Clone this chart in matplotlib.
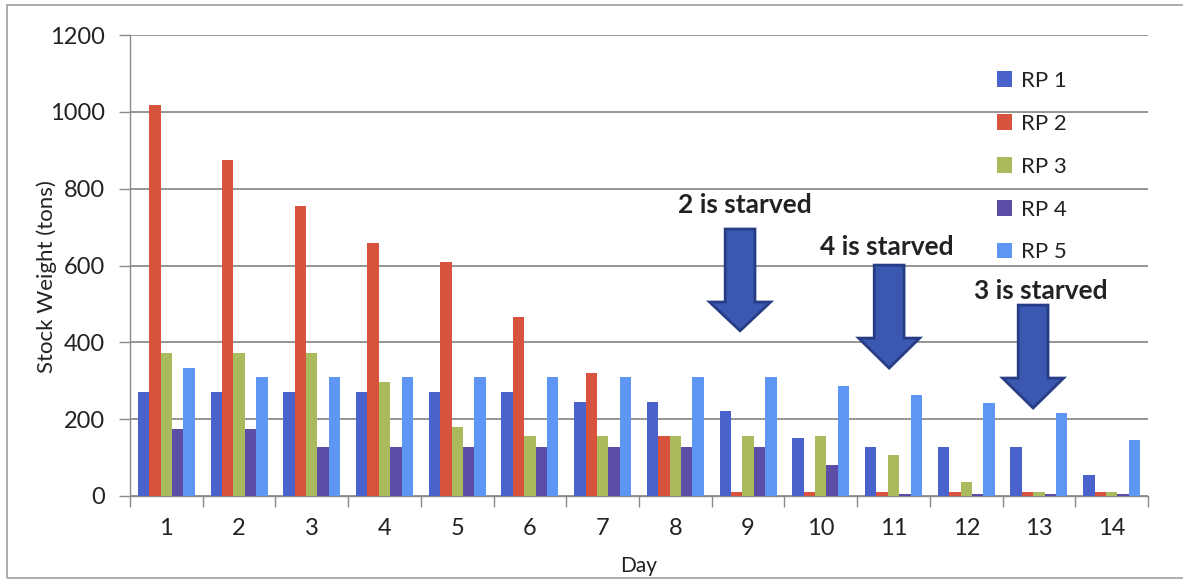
import matplotlib
matplotlib.use("Agg")
import matplotlib.pyplot as plt
import numpy as np
from matplotlib.patches import Polygon, Rectangle

days = [str(d) for d in range(1, 15)]
rp1 = [270, 270, 270, 270, 270, 270, 245, 245, 222, 150, 127, 127, 127, 55]
rp2 = [1017, 874, 755, 659, 609, 465, 321, 155, 10, 10, 10, 10, 10, 10]
rp3 = [372, 372, 372, 298, 180, 155, 155, 155, 155, 155, 108, 37, 10, 10]
rp4 = [174, 174, 127, 127, 127, 127, 127, 127, 127, 80, 5, 5, 5, 5]
rp5 = [334, 310, 310, 310, 310, 310, 310, 310, 310, 287, 263, 241, 217, 146]
series_names = ["RP 1", "RP 2", "RP 3", "RP 4", "RP 5"]
colors = ["#4a62cc", "#d7533e", "#a9bb5c", "#5b4ea6", "#5f96f4"]

notes = ["2 is starved", "4 is starved", "3 is starved"]
note_x = [8.95, 10.91, 13.02]
note_y = [757, 648, 534]
arrow_x = [8.89, 10.94, 12.92]
arrow_top = [695, 601, 497]
arrow_base = [505, 411, 307]
arrow_tip = [430, 333, 229]

plt.rcParams['font.family'] = ['Lato', 'DejaVu Sans']

W, H = 1183, 579
fig = plt.figure(figsize=(W / 100, H / 100), dpi=100)
ax = fig.add_axes([130 / W, 1 - 496 / H, (1148 - 130) / W, (496 - 35) / H])

x = np.arange(1, 15)
bw = 0.157
data = [rp1, rp2, rp3, rp4, rp5]
for i, (vals, name, c) in enumerate(zip(data, series_names, colors)):
    ax.bar(x + (i - 2) * bw, vals, width=bw, color=c, label=name, zorder=3)

ax.set_xlim(0.5, 14.5)
ax.set_ylim(0, 1200)
ax.set_yticks(range(0, 1201, 200))
ax.set_xticks(x)
ax.set_xticklabels(days)
ax.set_xticks(np.arange(0.5, 15, 1), minor=True)
ax.tick_params(axis='x', which='major', length=0, labelsize=17, pad=16, colors='#222222')
ax.tick_params(axis='x', which='minor', length=8, width=1, color='#8a8a8a', direction='out')
ax.tick_params(axis='y', which='major', length=8, width=1, color='#8a8a8a', direction='out',
               labelsize=17, pad=10, labelcolor='#222222')
ax.yaxis.grid(True, color='#8c8c8c', linewidth=1.3, zorder=0)
for s in ['top', 'right']:
    ax.spines[s].set_visible(False)
for s in ['left', 'bottom']:
    ax.spines[s].set_color('#8a8a8a')
    ax.spines[s].set_linewidth(1)

ax.set_ylabel("Stock Weight (tons)", fontsize=16, color='#222222')
ax.yaxis.set_label_coords(-0.072, 0.475)
ax.set_xlabel("Day", fontsize=15, labelpad=12, color='#222222')

leg = ax.legend(loc='upper left', bbox_to_anchor=((988 - 130) / (1148 - 130), (496 - 62) / 461),
                frameon=False, fontsize=16, handlelength=0.7, handleheight=0.7,
                handletextpad=0.4, labelspacing=1.03, borderaxespad=0)
for t in leg.get_texts():
    t.set_color('#222222')

for nx, ny, txt in zip(note_x, note_y, notes):
    ax.text(nx, ny, txt, ha='center', va='center', fontsize=19, fontweight='bold',
            color='#222222', zorder=6)

sw, hw = 0.205, 0.42
for ax_, top, base, tip in zip(arrow_x, arrow_top, arrow_base, arrow_tip):
    pts = [(ax_ - sw, top), (ax_ + sw, top), (ax_ + sw, base), (ax_ + hw, base),
           (ax_, tip), (ax_ - hw, base), (ax_ - sw, base)]
    ax.add_patch(Polygon(pts, closed=True, facecolor='#3a58b0', edgecolor='#263d85',
                         linewidth=2, zorder=5, joinstyle='miter'))

fig.patches.append(Rectangle((7 / W, 1 - 578 / H), (W - 7) / W + 0.01, (578 - 5) / H,
                             transform=fig.transFigure, fill=False, edgecolor='#a0a0a0',
                             linewidth=1.2))

fig.savefig("out.png", dpi=100)
